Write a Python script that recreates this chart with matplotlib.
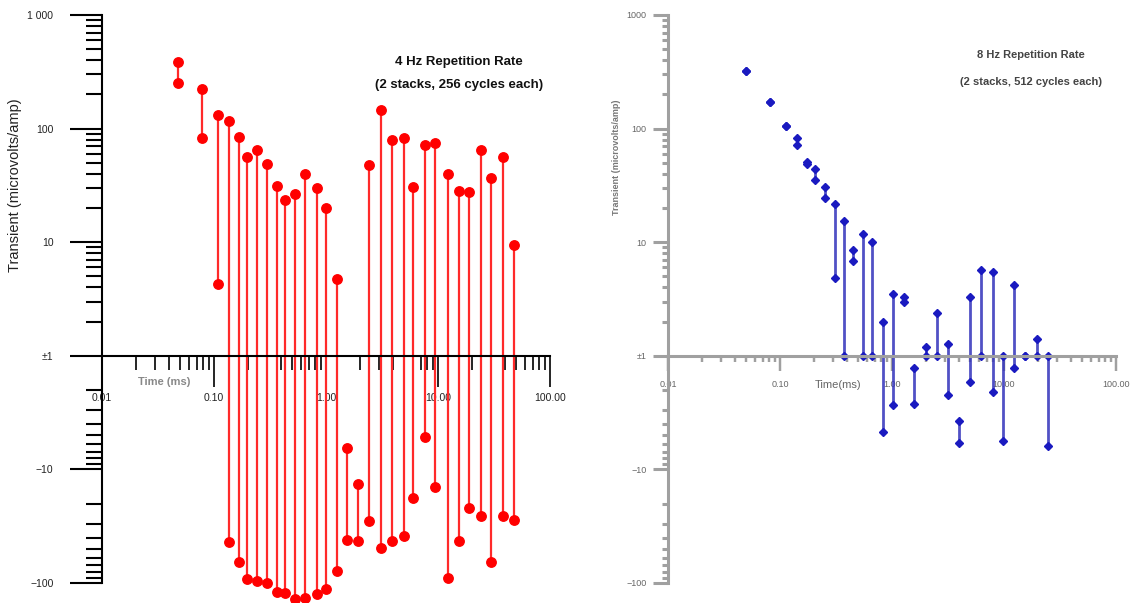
import numpy as np
import matplotlib
matplotlib.use("Agg")
import matplotlib.pyplot as plt
from matplotlib.ticker import NullFormatter

plt.rcParams['font.family'] = ['Liberation Sans', 'DejaVu Sans']

# 4 Hz panel: time (ms), upper and lower value of each stack pair
red_t = [0.048, 0.0777, 0.109, 0.135, 0.168, 0.198, 0.240, 0.299, 0.363, 0.430,
         0.532, 0.649, 0.831, 1.01, 1.25, 1.55, 1.94, 2.42, 3.12, 3.88,
         4.94, 5.98, 7.66, 9.46, 12.2, 15.5, 18.8, 24.0, 29.9, 38.3, 47.7]
red_hi = [387, 222, 133, 116, 84.6, 56.6, 64.3, 49.2, 31.4, 23.3,
          26.8, 40, 29.8, 19.8, 4.7, -6.5, -13.5, 48.2, 144.5, 80.1,
          82.4, 30.6, 72, 74, 40, 28.2, 27.5, 64.7, 36.9, 56.6, 9.4]
red_lo = [254, 82.4, 4.3, -43.3, -65.4, -92.7, -96, -101, -119.5, -122,
          -139, -135, -125, -112, -79.2, -41.9, -43.0, -28.5, -49.4, -43.0,
          -38.6, -17.9, -5.2, -14.4, -90.2, -43.0, -21.7, -25.6, -64.9, -25.6, -27.8]

# 8 Hz panel
blue_t = [0.0497, 0.0814, 0.112, 0.143, 0.173, 0.207, 0.254, 0.312, 0.375, 0.452,
          0.547, 0.663, 0.836, 1.03, 1.28, 1.57, 2.0, 2.5, 3.14, 3.94,
          4.97, 6.27, 7.93, 9.86, 12.3, 15.4, 19.6, 24.9]
blue_hi = [321, 173, 106, 83, 51.3, 44.3, 30.9, 21.5, 15.4, 8.5,
           11.8, 10, 2.0, 3.5, 3.3, -1.27, 1.2, 2.4, 1.27, -3.75,
           3.26, 5.7, 5.5, 1, 4.2, 1, 1.41, 1]
blue_lo = [321, 173, 106, 71.6, 48.6, 35.1, 24.6, 4.8, 1, 6.8,
           1, 1, -4.7, -2.7, 3.0, -2.68, 1, 1, -2.2, -5.8,
           -1.71, 1, -2.1, -5.6, -1.27, 1, 1, -6.2]

x_major = [0.01, 0.1, 1, 10, 100]
x_labels = ["0.01", "0.10", "1.00", "10.00", "100.00"]
x_minor = [m * 10.0 ** k for k in range(-2, 2) for m in range(2, 10)]
y_major = [1000, 100, 10, 1, -10, -100]
y_labels_left = ["1 000", "100", "10", "±1", "−10", "−100"]
y_labels_right = ["1000", "100", "10", "±1", "−10", "−100"]
y_minor = ([m * 10.0 ** k for k in range(0, 3) for m in range(2, 10)] +
           [-m * 10.0 ** k for k in range(0, 2) for m in range(2, 10)])


def fwd(y):
    y = np.asarray(y, dtype=float)
    return np.sign(y) * np.log10(np.maximum(np.abs(y), 1.0))


def inv(z):
    z = np.asarray(z, dtype=float)
    return np.sign(z) * 10 ** np.abs(z)


def setup(ax, col, lw, ylen, xlen, ypad, xpad, fs, ylabels, tcol):
    ax.set_xscale('log')
    ax.set_yscale('function', functions=(fwd, inv))
    ax.set_xlim(0.01, 100)
    ax.set_ylim(-100, 1000)
    ax.spines['top'].set_visible(False)
    ax.spines['right'].set_visible(False)
    ax.spines['bottom'].set_position(('data', 1))
    for s in ['left', 'bottom']:
        ax.spines[s].set_color(col)
        ax.spines[s].set_linewidth(lw)
    ax.set_xticks(x_major, x_labels)
    ax.set_xticks(x_minor, minor=True)
    ax.xaxis.set_minor_formatter(NullFormatter())
    ax.set_yticks(y_major, ylabels)
    ax.set_yticks(y_minor, minor=True)
    ax.yaxis.set_minor_formatter(NullFormatter())
    ax.tick_params(axis='y', which='major', length=ylen[0], width=lw, pad=ypad,
                   labelsize=fs, color=col, labelcolor=tcol)
    ax.tick_params(axis='y', which='minor', length=ylen[1], width=lw, color=col)
    ax.tick_params(axis='x', which='major', length=xlen[0], width=lw * 0.8, pad=xpad,
                   labelsize=fs, color=col, labelcolor=tcol)
    ax.tick_params(axis='x', which='minor', length=xlen[1], width=lw * 0.8, color=col)
    ax.patch.set_alpha(0)


fig = plt.figure(figsize=(11.3, 6.03), dpi=100)

# left panel
ax1 = fig.add_axes([102 / 1130, 1 - 583 / 603, 448 / 1130, 568 / 603])
setup(ax1, 'black', 1.5, (23, 11.5), (22, 10), 12, 5, 7.5, y_labels_left, '#222222')
ax1.vlines(red_t, red_lo, red_hi, colors='#ff2a2a', lw=1.6, clip_on=False)
ax1.plot(red_t, red_hi, 'o', color='#ff0000', ms=6.8, clip_on=False)
ax1.plot(red_t, red_lo, 'o', color='#ff0000', ms=6.8, clip_on=False)
ax1.text(-0.194, 0.70, "Transient (microvolts/amp)", transform=ax1.transAxes,
         rotation=90, ha='center', va='center', fontsize=10.5, color='#222222')
ax1.text(0.138, 0.354, "Time (ms)", transform=ax1.transAxes, ha='center',
         va='center', fontsize=8, color='#888888', fontweight='bold')
ax1.text(0.797, 0.917, "4 Hz Repetition Rate", transform=ax1.transAxes,
         ha='center', va='center', fontsize=9.5, fontweight='bold', color='#111111')
ax1.text(0.797, 0.877, "(2 stacks, 256 cycles each)", transform=ax1.transAxes,
         ha='center', va='center', fontsize=9.5, fontweight='bold', color='#111111')

# right panel
ax2 = fig.add_axes([668 / 1130, 1 - 583 / 603, 448 / 1130, 568 / 603])
setup(ax2, '#a0a0a0', 2.2, (11, 4.5), (11, 4.5), 4.5, 6.5, 6.5, y_labels_right, '#666666')
ax2.vlines(blue_t, blue_lo, blue_hi, colors='#3333bb', lw=2, alpha=0.85, clip_on=False)
ax2.plot(blue_t, blue_hi, 'D', color='#1a1ac0', ms=4.5, clip_on=False)
ax2.plot(blue_t, blue_lo, 'D', color='#1a1ac0', ms=4.5, clip_on=False)
ax2.text(-0.114, 0.75, "Transient (microvolts/amp)", transform=ax2.transAxes,
         rotation=90, ha='center', va='center', fontsize=6.5, color='#777777',
         fontweight='bold')
ax2.text(0.379, 0.349, "Time(ms)", transform=ax2.transAxes, ha='center',
         va='center', fontsize=8, color='#666666')
ax2.text(0.810, 0.930, "8 Hz Repetition Rate", transform=ax2.transAxes,
         ha='center', va='center', fontsize=8, fontweight='bold', color='#444444')
ax2.text(0.810, 0.882, "(2 stacks, 512 cycles each)", transform=ax2.transAxes,
         ha='center', va='center', fontsize=8, fontweight='bold', color='#444444')

fig.savefig("out.png", dpi=100)
